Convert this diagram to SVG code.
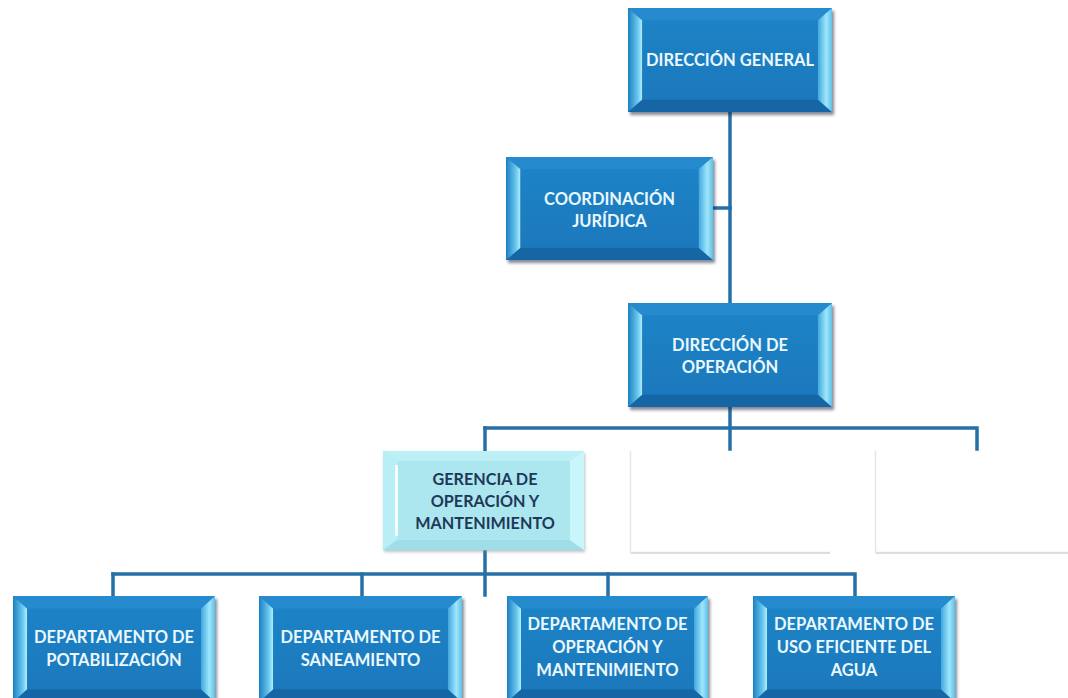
<svg xmlns="http://www.w3.org/2000/svg" xmlns:xlink="http://www.w3.org/1999/xlink" width="1068" height="698" viewBox="0 0 1068 698">
  <defs>
    <style>
      .lbl { font-family: Lato, "Open Sans", "Liberation Sans", sans-serif; font-weight: 700; text-anchor: middle; }
      .lt { fill: #eaf8fd; font-size: 16.5px; }
      .dk { fill: #1f3858; font-size: 16.2px; }
      .wire { fill: none; stroke: #2670a8; stroke-width: 3.5; stroke-linecap: square; }
    </style>
    <linearGradient id="lb" x1="0" y1="0" x2="1" y2="0">
      <stop offset="0" stop-color="#1c7fc2"/>
      <stop offset="0.7" stop-color="#6cc9ee"/>
      <stop offset="1" stop-color="#b4f0fc"/>
    </linearGradient>
    <linearGradient id="rb" x1="0" y1="0" x2="1" y2="0">
      <stop offset="0" stop-color="#3da6de"/>
      <stop offset="0.6" stop-color="#9fe6fa"/>
      <stop offset="1" stop-color="#5fc0ea"/>
    </linearGradient>
    <linearGradient id="face" x1="0" y1="0" x2="0" y2="1">
      <stop offset="0" stop-color="#1e83c6"/>
      <stop offset="1" stop-color="#1a78bc"/>
    </linearGradient>
    <filter id="shd" x="-10%" y="-10%" width="125%" height="130%">
      <feDropShadow dx="2" dy="3" stdDeviation="1.6" flood-color="#1a2c40" flood-opacity="0.55"/>
    </filter>
    <filter id="shdl" x="-10%" y="-10%" width="125%" height="130%">
      <feDropShadow dx="1" dy="2" stdDeviation="1.5" flood-color="#7a8a8a" flood-opacity="0.5"/>
    </filter>
    <!-- bevelled blue box, stretched to each node's size -->
    <symbol id="bevel" viewBox="0 0 200 100" preserveAspectRatio="none">
      <rect x="0" y="0" width="200" height="100" fill="url(#face)"/>
      <polygon points="0,0 200,0 186,12 14,12" fill="#258bce"/>
      <polygon points="0,100 14,88 186,88 200,100" fill="#1666a6"/>
      <polygon points="0,0 14,12 14,88 0,100" fill="url(#lb)"/>
      <polygon points="200,0 186,12 186,88 200,100" fill="url(#rb)"/>
      <rect x="14" y="12" width="172" height="76" fill="url(#face)"/>
    </symbol>
    <!-- pale bevelled box -->
    <symbol id="bevelPale" viewBox="0 0 200 100" preserveAspectRatio="none">
      <rect x="0" y="0" width="200" height="100" fill="#aee8f1"/>
      <polygon points="0,0 200,0 186,10 14,10" fill="#bdf0f6"/>
      <polygon points="0,100 14,90 186,90 200,100" fill="#9fdde8"/>
      <polygon points="0,0 14,10 14,90 0,100" fill="#b8eef5"/>
      <rect x="12" y="14" width="3" height="72" fill="#f4feff"/>
      <polygon points="200,0 186,10 186,90 200,100" fill="#c8f6fb"/>
      <rect x="15" y="10" width="171" height="80" fill="#ace7f0"/>
    </symbol>
  </defs>

  <rect width="1068" height="698" fill="#ffffff"/>

  <g id="connectors">
    <path class="wire" d="M730 112 V303"/>
    <path class="wire" d="M713 208 H730"/>
    <path class="wire" d="M730 407 V449"/>
    <path class="wire" d="M485 428 H977 V449"/>
    <path class="wire" d="M485 428 V451"/>
    <path class="wire" d="M485 552 V595"/>
    <path class="wire" d="M113 574 H855 V595"/>
    <path class="wire" d="M362 574 V595"/>
    <path class="wire" d="M608 574 V595"/>
    <path class="wire" d="M113 574 V595"/>
  </g>

  <g id="direccion-general">
    <use xlink:href="#bevel" x="628" y="8" width="204" height="104" filter="url(#shd)"/>
    <text class="lbl lt" x="730" y="66">DIRECCIÓN GENERAL</text>
  </g>

  <g id="coordinacion-juridica">
    <use xlink:href="#bevel" x="506" y="157" width="207" height="103" filter="url(#shd)"/>
    <text class="lbl lt" x="609.5" y="205">COORDINACIÓN</text>
    <text class="lbl lt" x="609.5" y="227">JURÍDICA</text>
  </g>

  <g id="direccion-operacion">
    <use xlink:href="#bevel" x="628" y="303" width="204" height="104" filter="url(#shd)"/>
    <text class="lbl lt" x="730" y="351">DIRECCIÓN DE</text>
    <text class="lbl lt" x="730" y="373">OPERACIÓN</text>
  </g>

  <g id="gerencia-operacion">
    <use xlink:href="#bevelPale" x="383" y="451" width="201" height="99" filter="url(#shdl)"/>
    <text class="lbl dk" x="485" y="485">GERENCIA DE</text>
    <text class="lbl dk" x="485" y="507">OPERACIÓN Y</text>
    <text class="lbl dk" x="485" y="529">MANTENIMIENTO</text>
  </g>

  <g id="vacante-1">
    <rect x="630" y="451" width="200" height="102" fill="#ffffff"/>
    <path d="M630.5 451 V552.5 H830" fill="none" stroke="#e3e7e5" stroke-width="1.5"/>
    <path d="M631 553 H830" stroke="#d8e0d8" stroke-width="2"/>
  </g>

  <g id="vacante-2">
    <rect x="875" y="451" width="193" height="102" fill="#ffffff"/>
    <path d="M875.5 451 V552.5 H1068" fill="none" stroke="#e3e7e5" stroke-width="1.5"/>
    <path d="M876 553 H1068" stroke="#d8e0d8" stroke-width="2"/>
  </g>

  <g id="depto-potabilizacion">
    <use xlink:href="#bevel" x="13" y="596" width="202" height="106" filter="url(#shd)"/>
    <text class="lbl lt" x="114" y="643">DEPARTAMENTO DE</text>
    <text class="lbl lt" x="114" y="666">POTABILIZACIÓN</text>
  </g>

  <g id="depto-saneamiento">
    <use xlink:href="#bevel" x="259" y="596" width="203" height="106" filter="url(#shd)"/>
    <text class="lbl lt" x="360.5" y="643">DEPARTAMENTO DE</text>
    <text class="lbl lt" x="360.5" y="666">SANEAMIENTO</text>
  </g>

  <g id="depto-operacion">
    <use xlink:href="#bevel" x="507" y="596" width="201" height="106" filter="url(#shd)"/>
    <text class="lbl lt" x="607.5" y="630">DEPARTAMENTO DE</text>
    <text class="lbl lt" x="607.5" y="653">OPERACIÓN Y</text>
    <text class="lbl lt" x="607.5" y="676">MANTENIMIENTO</text>
  </g>

  <g id="depto-uso-eficiente">
    <use xlink:href="#bevel" x="753" y="596" width="202" height="106" filter="url(#shd)"/>
    <text class="lbl lt" x="854" y="630">DEPARTAMENTO DE</text>
    <text class="lbl lt" x="854" y="653">USO EFICIENTE DEL</text>
    <text class="lbl lt" x="854" y="676">AGUA</text>
  </g>
</svg>
